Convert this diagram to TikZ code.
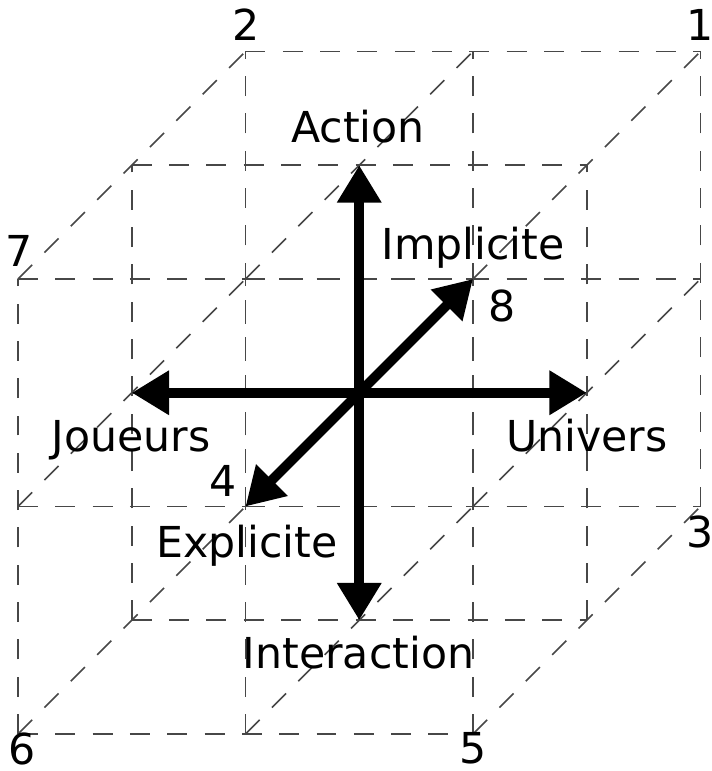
\documentclass[tikz,border=0pt]{standalone}
\usepackage{fontspec}
\setmainfont{DejaVu Sans}
\usetikzlibrary{arrows.meta}
\tikzset{
  lattice/.style={black!72, line width=0.6pt, dash pattern=on 7.5pt off 6.5pt},
  axisarrow/.style={line width=3.7pt, -{Triangle[length=14pt,width=15.8pt]}},
  lbl/.style={anchor=base, inner sep=0pt, font=\fontsize{16}{19}\selectfont},
}
\begin{document}
\begin{tikzpicture}[scale=3]
    \useasboundingbox (-0.0791,-0.1626) rectangle (3.0505,3.2264);
    % dashed cube, three layers deep
    \foreach \k in {0,1,2} {
        \foreach \n in {0,1,2} {
            \draw[lattice] (0.5*\k,\n+0.5*\k) -- (2+0.5*\k,\n+0.5*\k);
            \draw[lattice] (\n+0.5*\k,0.5*\k) -- (\n+0.5*\k,2+0.5*\k);
            \draw[lattice] (\k,\n) -- (\k+1,\n+1);
        }
    }
    % axes from the centre
    \coordinate (O) at (1.5,1.5);
    \coordinate (act) at (1.5,2.5);
    \coordinate (inter) at (1.5,0.5);
    \coordinate (jou) at (0.5,1.5);
    \coordinate (univ) at (2.5,1.5);
    \coordinate (impl) at (2,2);
    \coordinate (expl) at (1,1);
    \draw[axisarrow] (O) -- (act);
    \draw[axisarrow] (O) -- (inter);
    \draw[axisarrow] (O) -- (jou);
    \draw[axisarrow] (O) -- (univ);
    \draw[axisarrow] (O) -- (impl);
    \draw[axisarrow] (O) -- (expl);
    % axis names
    \node[lbl] (lact) at (1.495,2.598) {Action};
    \node[lbl] (linter) at (1.497,0.290) {Interaction};
    \node[lbl] (ljou) at (0.497,1.240) {Joueurs};
    \node[lbl] (luniv) at (2.501,1.240) {Univers};
    \node[lbl] (limpl) at (2.0,2.084) {Implicite};
    \node[lbl] (lexpl) at (1.007,0.778) {Explicite};
    % corner numbers
    \node[lbl] (c1) at (2.998,3.050) {1};
    \node[lbl] (c2) at (1.002,3.050) {2};
    \node[lbl] (c3) at (2.998,0.818) {3};
    \node[lbl] (c4) at (0.901,1.042) {4};
    \node[lbl] (c5) at (2.0,-0.128) {5};
    \node[lbl] (c6) at (0.02,-0.135) {6};
    \node[lbl] (c7) at (0.004,2.053) {7};
    \node[lbl] (c8) at (2.127,1.811) {8};
\end{tikzpicture}
\end{document}
